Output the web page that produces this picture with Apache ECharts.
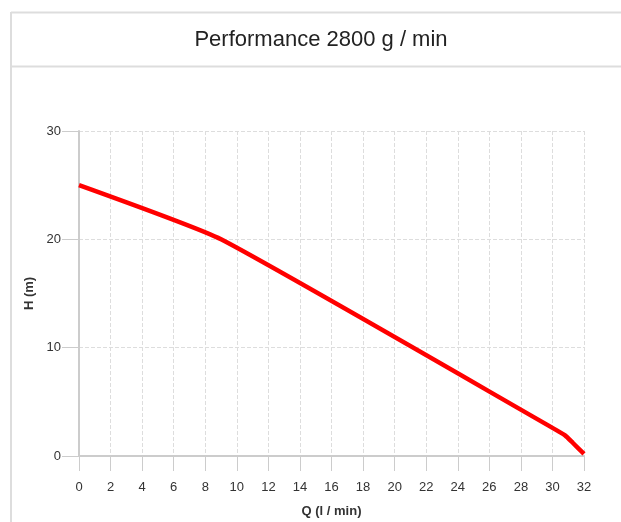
<!DOCTYPE html>
<html>
<head>
<meta charset="utf-8">
<script src="https://cdn.jsdelivr.net/npm/echarts@6/dist/echarts.min.js"></script>
<style>html,body{margin:0;padding:0;background:#fff;}#c{width:621px;height:522px;}</style>
</head>
<body>
<div id="c"></div>
<script>
const titleText = 'Performance 2800 g / min';
const xName = 'Q (l / min)';
const yName = 'H (m)';
const flowQ = [0, 9, 30, 30.8, 31.3, 32];
const headH = [25, 20, 2.6, 1.9, 1.2, 0.2];

const chart = echarts.init(document.getElementById('c'));
const font = 'Liberation Sans, Arial, sans-serif';
chart.setOption({
  backgroundColor: '#fff',
  animation: false,
  title: {
    text: titleText, left: 316, top: 24, textAlign: 'center',
    textStyle: {fontFamily: font, fontSize: 22, fontWeight: 'normal', color: '#222'}
  },
  graphic: [
    {type: 'line', shape: {x1: 11, y1: 12.5, x2: 621, y2: 12.5}, style: {stroke: '#ddd', lineWidth: 2}},
    {type: 'line', shape: {x1: 11, y1: 66.5, x2: 621, y2: 66.5}, style: {stroke: '#ddd', lineWidth: 2}},
    {type: 'line', shape: {x1: 11, y1: 12, x2: 11, y2: 522}, style: {stroke: '#ddd', lineWidth: 2}}
  ],
  grid: {left: 79, right: 37, top: 131, bottom: 66, outerBoundsMode: 'none', containLabel: false},
  xAxis: {
    type: 'value', min: 0, max: 32, interval: 2,
    name: xName, nameLocation: 'middle', nameGap: 49,
    nameTextStyle: {fontFamily: font, fontSize: 13, fontWeight: 'bold', color: '#333'},
    axisLine: {show: true, lineStyle: {color: '#ccc', width: 2}},
    axisTick: {show: true, length: 15, lineStyle: {color: '#ccc'}},
    axisLabel: {margin: 25, fontFamily: font, fontSize: 13, color: '#333'},
    splitLine: {show: true, lineStyle: {color: '#ddd', type: 'dashed'}}
  },
  yAxis: {
    type: 'value', min: 0, max: 30, interval: 10,
    name: yName, nameLocation: 'middle', nameGap: 37,
    nameTextStyle: {fontFamily: font, fontSize: 13, fontWeight: 'bold', color: '#333'},
    axisLine: {show: true, lineStyle: {color: '#ccc', width: 2}},
    axisTick: {show: true, length: 17, lineStyle: {color: '#ccc'}},
    axisLabel: {margin: 18, fontFamily: font, fontSize: 13, color: '#333'},
    splitLine: {show: true, lineStyle: {color: '#ddd', type: 'dashed'}}
  },
  series: [{
    type: 'line', data: flowQ.map((q, i) => [q, headH[i]]),
    showSymbol: false, smooth: 0.15,
    lineStyle: {color: '#ff0000', width: 4.5}
  }]
});
</script>
</body>
</html>
